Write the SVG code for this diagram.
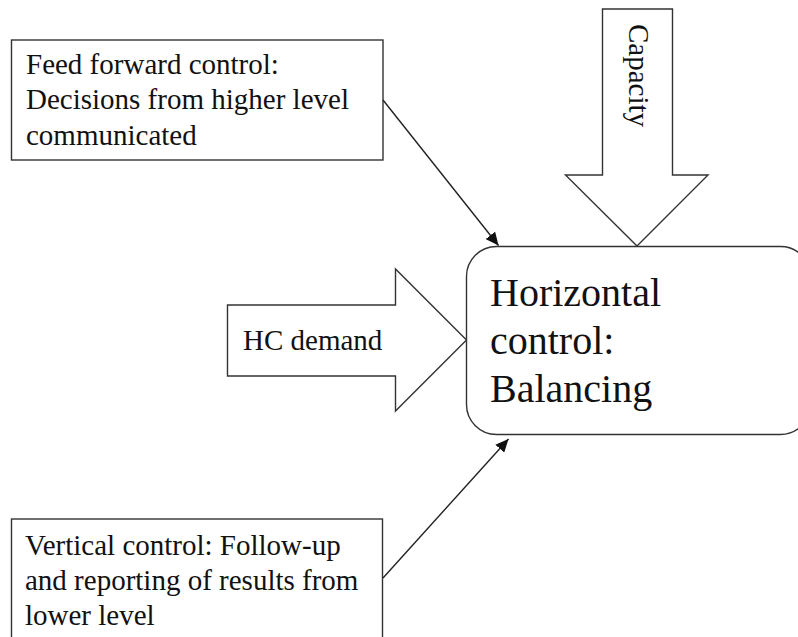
<svg xmlns="http://www.w3.org/2000/svg" width="798" height="637" viewBox="0 0 798 637">
  <defs>
    <marker id="arrowhead" markerWidth="14" markerHeight="12" refX="13" refY="6" orient="auto" markerUnits="userSpaceOnUse">
      <path d="M0,0 L13,6 L0,12 Z" fill="#111"/>
    </marker>
  </defs>
  <style>
    .box { fill: #fff; stroke: #333; stroke-width: 1.4; }
    .label { font-family: "Liberation Serif", "Times New Roman", serif; font-size: 29px; fill: #111; }
    .big { font-family: "Liberation Serif", "Times New Roman", serif; font-size: 40px; fill: #111; }
    .link { stroke: #222; stroke-width: 1.4; fill: none; }
  </style>
  <rect width="798" height="637" fill="#fff"/>

  <!-- Feed forward control box -->
  <g id="feed-forward">
    <rect class="box" x="11.5" y="40" width="371.5" height="120"/>
    <text class="label" x="26" y="74">Feed forward control:</text>
    <text class="label" x="26" y="109">Decisions from higher level</text>
    <text class="label" x="26" y="145">communicated</text>
  </g>

  <!-- Capacity block arrow pointing down -->
  <g id="capacity">
    <path class="box" d="M602.5,9 L672.5,9 L672.5,175 L708,175 L637,246 L565.5,175 L602.5,175 Z"/>
    <text class="label" transform="translate(629,24) rotate(90)">Capacity</text>
  </g>

  <!-- HC demand block arrow pointing right -->
  <g id="hc-demand">
    <path class="box" d="M227.5,305 L395.5,305 L395.5,269 L466.5,340 L395.5,411 L395.5,376 L227.5,376 Z"/>
    <text class="label" x="243" y="350">HC demand</text>
  </g>

  <!-- Horizontal control box -->
  <g id="horizontal-control">
    <rect class="box" x="466.5" y="246.5" width="344" height="188" rx="30" ry="30"/>
    <text class="big" x="490" y="306">Horizontal</text>
    <text class="big" x="490" y="354">control:</text>
    <text class="big" x="490" y="402">Balancing</text>
  </g>

  <!-- Vertical control box -->
  <g id="vertical-control">
    <rect class="box" x="11.5" y="519" width="371" height="140"/>
    <text class="label" x="25" y="555">Vertical control: Follow-up</text>
    <text class="label" x="25" y="590">and reporting of results from</text>
    <text class="label" x="25" y="625">lower level</text>
  </g>

  <!-- Connectors -->
  <g id="connectors">
    <line class="link" x1="383" y1="100" x2="498.5" y2="245.5" marker-end="url(#arrowhead)"/>
    <line class="link" x1="383" y1="578" x2="508.5" y2="439" marker-end="url(#arrowhead)"/>
  </g>
</svg>
